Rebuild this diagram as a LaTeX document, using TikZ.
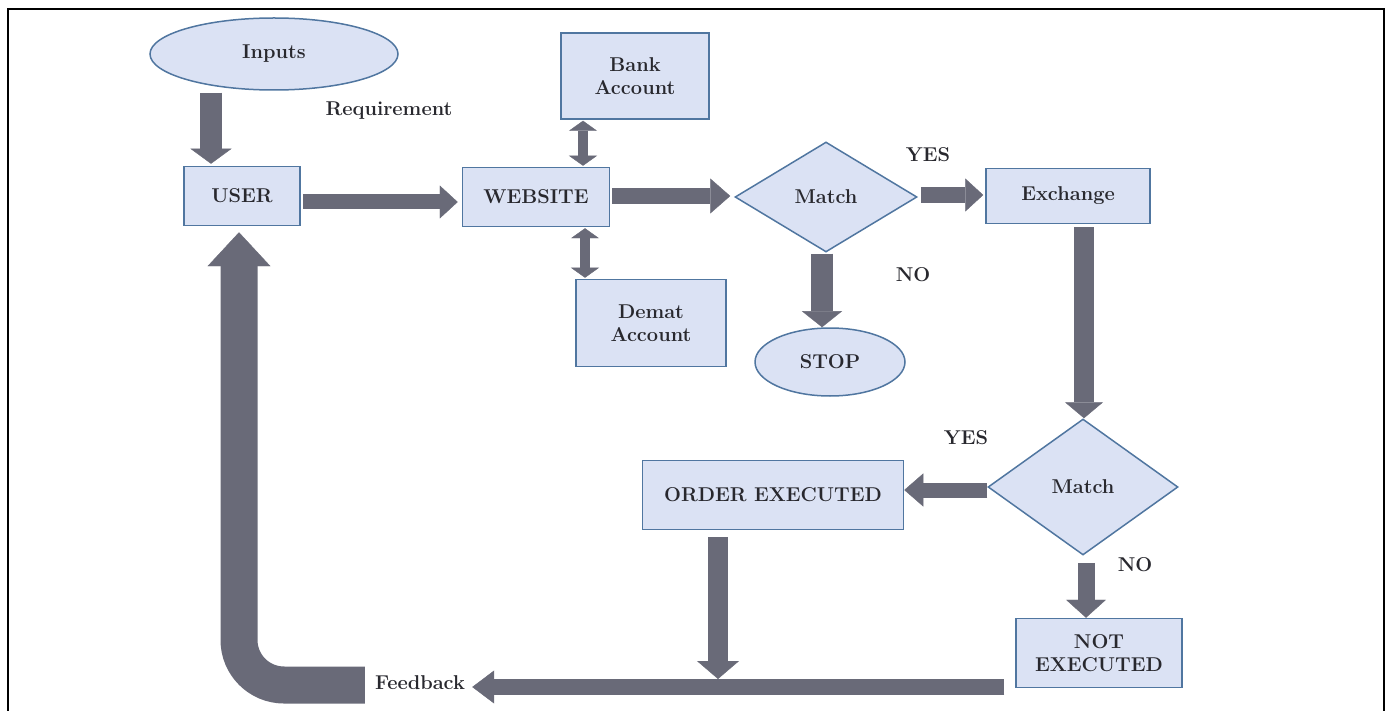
\documentclass[tikz,border=0pt]{standalone}
\usepackage{tikz}
\usetikzlibrary{shapes.geometric, arrows.meta, positioning}

\definecolor{boxfill}{RGB}{219,226,244}
\definecolor{boxline}{RGB}{80,118,160}
\definecolor{arrowgray}{RGB}{105,106,120}
\definecolor{textgray}{RGB}{40,40,46}

\tikzset{
  lbl/.style={text=textgray, font=\fontsize{20}{23}\selectfont\bfseries, align=center, inner sep=0pt},
  blk/.style={lbl, draw=boxline, fill=boxfill, line width=1.5pt},
  oval/.style={blk, ellipse},
  decide/.style={blk, diamond},
  fat/.style n args={3}{draw=arrowgray, line width=#1, -{Triangle[width=#2, length=#3, line width=0.4pt]}},
  dfat/.style n args={3}{draw=arrowgray, line width=#1, {Triangle[width=#2, length=#3, line width=0.4pt]}-{Triangle[width=#2, length=#3, line width=0.4pt]}}
}

\begin{document}
\begin{tikzpicture}[x=1pt, y=-1pt]
   \useasboundingbox (0,0) rectangle (1392,711);
   \draw[line width=2pt] (8,711) -- (8,9) -- (1384,9) -- (1384,711);

   \node[oval, minimum width=248pt, minimum height=72pt] (inputs) at (274,54) {Inputs};
   \node[lbl] (req) at (389,111) {Requirement};
   \node[blk, minimum width=116pt, minimum height=59pt] (user) at (242,196) {USER};
   \node[blk, minimum width=147pt, minimum height=59pt] (website) at (536,197) {WEBSITE};
   \node[blk, minimum width=148pt, minimum height=86pt] (bank) at (635,76) {Bank\\Account};
   \node[blk, minimum width=150pt, minimum height=87pt] (demat) at (651,323) {Demat\\Account};
   \node[decide, minimum width=182pt, minimum height=110pt] (match1) at (826,197) {Match};
   \node[lbl] (yes1) at (928,155) {YES};
   \node[lbl] (no1) at (913,275) {NO};
   \node[blk, minimum width=164pt, minimum height=55pt] (exchange) at (1068,196) {Exchange};
   \node[oval, minimum width=150pt, minimum height=68pt] (stop) at (830,362) {STOP};
   \node[decide, minimum width=190pt, minimum height=136pt] (match2) at (1083,487) {Match};
   \node[lbl] (yes2) at (966,438) {YES};
   \node[lbl] (no2) at (1135,565) {NO};
   \node[blk, minimum width=261pt, minimum height=69pt] (order) at (773,495) {ORDER EXECUTED};
   \node[blk, minimum width=166pt, minimum height=69pt] (notexec) at (1099,653) {NOT\\EXECUTED};
   \node[lbl] (feedback) at (420,683) {Feedback};
   \coordinate (join) at (718,679);

   \draw[fat={22pt}{41pt}{15pt}] ([xshift=-63pt,yshift=-2pt]inputs.south) -- ([xshift=-31pt,yshift=2pt]user.north);
   \draw[fat={15pt}{33pt}{18pt}] ([xshift=2pt,yshift=-6pt]user.east) -- ([xshift=-4pt,yshift=-5pt]website.west);
   \draw[dfat={10pt}{28pt}{10pt}] ([xshift=-52pt,yshift=-1pt]bank.south) -- ([xshift=47pt,yshift=1pt]website.north);
   \draw[dfat={10pt}{28pt}{10pt}] ([xshift=49pt,yshift=-1pt]website.south) -- ([xshift=-66pt,yshift=1pt]demat.north);
   \draw[fat={16pt}{35pt}{20pt}] ([xshift=2pt,yshift=1pt]website.east) -- ([xshift=-4pt,yshift=1pt]match1.west);
   \draw[fat={16pt}{33pt}{18pt}] ([xshift=3pt,yshift=2pt]match1.east) -- ([xshift=-2pt,yshift=1pt]exchange.west);
   \draw[fat={22pt}{40pt}{16pt}] ([xshift=-4pt,yshift=-1pt]match1.south) -- ([xshift=-8pt]stop.north);
   \draw[fat={20pt}{38pt}{16pt}] ([xshift=16pt,yshift=-3pt]exchange.south) -- ([xshift=1pt]match2.north);
   \draw[fat={15pt}{33pt}{19pt}] ([yshift=-3pt]match2.west) -- ([yshift=5pt]order.east);
   \draw[fat={17pt}{40pt}{18pt}] ([xshift=3pt,yshift=-7pt]match2.south) -- ([xshift=-13pt]notexec.north);
   \draw[fat={20pt}{42pt}{18pt}] ([xshift=-55pt,yshift=-7pt]order.south) -- (join);
   \draw[fat={16pt}{33pt}{22pt}] ([xshift=-11pt,yshift=-34pt]notexec.west) -- ([xshift=7pt,yshift=-4pt]feedback.east);
   \draw[fat={37pt}{63pt}{34pt}, rounded corners=45pt] ([xshift=-10pt,yshift=-2pt]feedback.west) -| ([xshift=-3pt,yshift=-6pt]user.south);
\end{tikzpicture}
\end{document}
